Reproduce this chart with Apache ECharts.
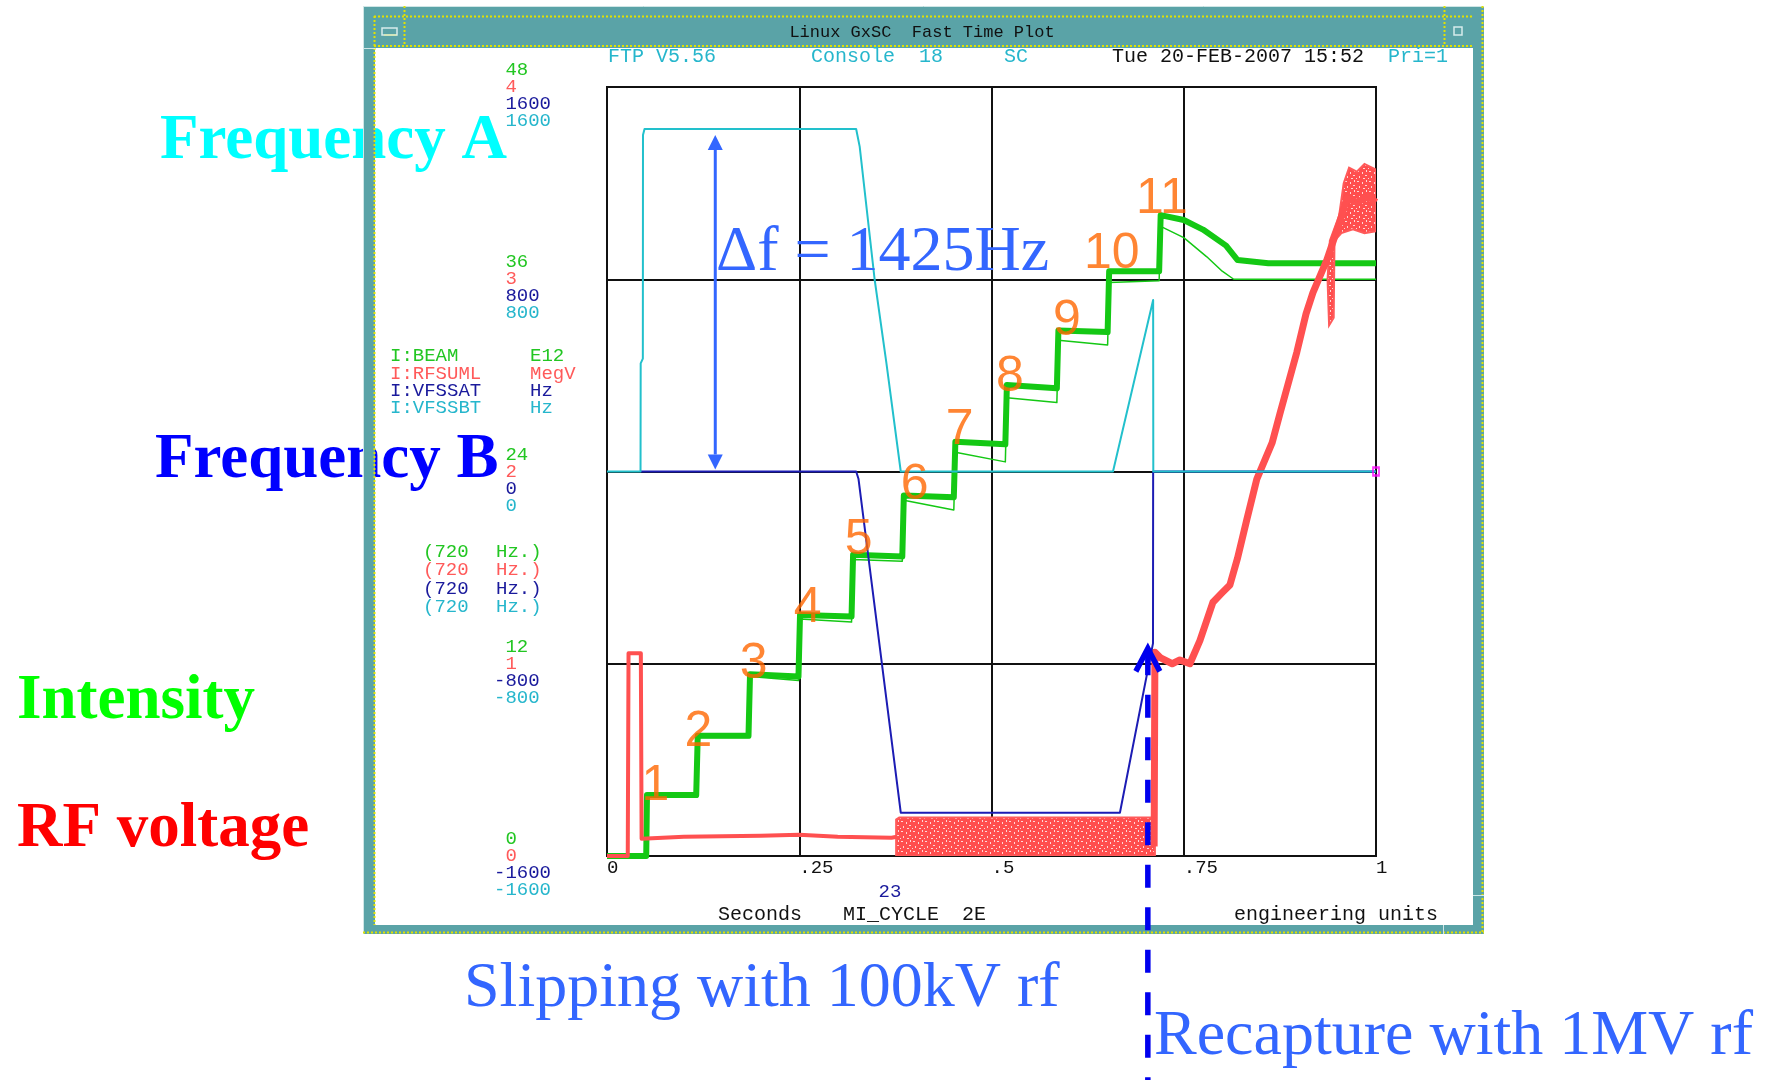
<!DOCTYPE html>
<html>
<head>
<meta charset="utf-8">
<title>Linux GxSC Fast Time Plot</title>
<script src="https://cdn.jsdelivr.net/npm/echarts@6/dist/echarts.min.js"></script>
<style>
  html, body { margin: 0; padding: 0; background: #ffffff; }
  #main { width: 1765px; height: 1080px; }
</style>
</head>
<body>
<div id="main"></div>
<script>
// ---- time axis (seconds into the MI cycle) ----
const timeTicks = [0, 0.25, 0.5, 0.75, 1];
const timeTickLabels = ['0', '.25', '.5', '.75', '1'];

// ---- I:BEAM  intensity, E12 (thick band of overlaid cycles + a lower trace) ----
const beamTrace = [
  [0, 0], [0.051, 0], [0.052, 3.8], [0.116, 3.8], [0.118, 7.5], [0.184, 7.5],
  [0.186, 11.35], [0.249, 11.2], [0.251, 15.05], [0.318, 14.95], [0.320, 18.8],
  [0.384, 18.7], [0.386, 22.5], [0.451, 22.4], [0.453, 25.85], [0.518, 25.7],
  [0.520, 29.4], [0.585, 29.2], [0.587, 32.8], [0.651, 32.7], [0.653, 36.5],
  [0.718, 36.5], [0.720, 40.0], [0.750, 39.7], [0.775, 39.1], [0.805, 38.1],
  [0.820, 37.2], [0.860, 37.0], [1.0, 37.0]
];
const beamLowTrace = [
  [0.052, 3.7], [0.116, 3.7], [0.118, 7.4], [0.184, 7.4], [0.186, 11.2], [0.249, 10.95],
  [0.251, 14.8], [0.318, 14.6], [0.320, 18.5], [0.384, 18.4], [0.386, 22.2], [0.451, 21.6],
  [0.453, 25.2], [0.518, 24.6], [0.520, 28.6], [0.585, 28.3], [0.587, 32.2], [0.651, 31.9],
  [0.653, 35.8], [0.718, 35.9], [0.720, 39.3], [0.750, 38.6], [0.780, 37.4], [0.800, 36.5],
  [0.815, 36.0], [1.0, 36.0]
];

// ---- I:RFSUML  rf voltage, MegV ----
const rfTrace = [
  [0, 0], [0.027, 0], [0.028, 1.055], [0.044, 1.055], [0.045, 0.09], [0.10, 0.10],
  [0.20, 0.105], [0.25, 0.11], [0.30, 0.10], [0.37, 0.095], [0.377, 0.10]
];
const rfSlipBand = [
  [0.376, 0.0], [0.376, 0.19], [0.38, 0.20], [0.50, 0.20], [0.60, 0.20], [0.7125, 0.20], [0.7125, 0.0]
];
const rfRecaptureTrace = [
  [0.7115, 0.05], [0.7125, 1.06], [0.720, 1.03], [0.735, 1.0], [0.745, 1.02], [0.758, 1.0],
  [0.771, 1.12], [0.788, 1.32], [0.800, 1.37], [0.810, 1.41], [0.820, 1.55], [0.832, 1.75],
  [0.845, 1.96], [0.865, 2.15], [0.875, 2.30], [0.897, 2.62], [0.909, 2.82], [0.918, 2.93],
  [0.936, 3.10], [0.953, 3.30], [0.962, 3.42], [0.975, 3.40], [0.990, 3.43], [1.0, 3.40]
];
const rfBurstBand = [
  [0.952, 3.33], [0.958, 3.50], [0.965, 3.58], [0.975, 3.56], [0.985, 3.60], [1.0, 3.57],
  [1.0, 3.25], [0.985, 3.24], [0.970, 3.26], [0.955, 3.24], [0.946, 3.20], [0.945, 2.80],
  [0.939, 2.76], [0.937, 3.00], [0.940, 3.20]
];

// ---- I:VFSSAT  frequency B, Hz ----
const freqBTrace = [
  [0.0436, 0], [0.324, 0], [0.327, -30], [0.382, -1420], [0.667, -1420],
  [0.7100, -715], [0.7102, 0], [1.0, 0]
];

// ---- I:VFSSBT  frequency A, Hz ----
const freqATrace = [
  [0, 0], [0.0436, 0], [0.0438, 450], [0.0466, 470], [0.0468, 1400], [0.0488, 1425],
  [0.324, 1425], [0.3286, 1352], [0.348, 800], [0.3633, 452], [0.382, 0], [0.658, 0],
  [0.7102, 714], [0.7104, 0], [1.0, 0]
];

// ---- injection step numbers, placed in (time, intensity) ----
const stepNames = ['1', '2', '3', '4', '5', '6', '7', '8', '9', '10', '11'];
const stepLabelPos = [
  [0.0631, 4.34], [0.119, 7.75], [0.1906, 11.99], [0.2609, 15.49], [0.3273, 19.74],
  [0.4001, 23.17], [0.4587, 26.55], [0.5238, 29.86], [0.598, 33.35], [0.6565, 37.54], [0.7215, 40.97]
];

// ---- annotation anchors ----
const deltaFTime = 0.1408, deltaFTop = 1400, deltaFBottom = 8;   // frequency A axis
const recaptureTime = 0.7033, recaptureVolt = 1.08;               // rf voltage axis

// ---- colours and fonts ----
const C = {
  beam: '#14c814', rf: '#ff5050', fb: '#1c1cb4', fa: '#22c0cc',
  tGreen: '#22c622', tRed: '#ff5a5a', tNavy: '#1a1a9c', tCyan: '#26b6cc',
  teal: '#5aa3a7', yellow: '#e2e200', orange: '#ff6600', note: '#3366ff'
};
const mono = '"Liberation Mono", "DejaVu Sans Mono", monospace';
const serif = '"Liberation Serif", "Times New Roman", serif';
const sans = '"Liberation Sans", Arial, sans-serif';

// speckled red fill for the dense many-cycle rf traces
function meshPattern() {
  const cv = document.createElement('canvas');
  cv.width = 12; cv.height = 10;
  const cx = cv.getContext('2d');
  cx.fillStyle = '#ff4e4e';
  cx.fillRect(0, 0, 12, 10);
  cx.fillStyle = '#ffd6d6';
  [[1, 1, 2, 1], [6, 2, 1, 2], [9, 5, 2, 1], [3, 6, 1, 2], [7, 8, 2, 1], [0, 8, 1, 1], [10, 0, 1, 2]]
    .forEach(function (r) { cx.fillRect(r[0], r[1], r[2], r[3]); });
  return { image: cv, repeat: 'repeat' };
}
const mesh = meshPattern();

const chart = echarts.init(document.getElementById('main'), null, { renderer: 'canvas', width: 1765, height: 1080 });

function signed(v) { return (v < 0 ? '-' : ' ') + Math.abs(v); }

// four scales share the left edge; each stacks its numbers one text row apart
function scaleAxis(min, max, step, color, before, after, grid) {
  return {
    type: 'value', min: min, max: max, interval: step, position: 'left', offset: 0,
    axisLine: { show: false }, axisTick: { show: false },
    splitLine: { show: grid, lineStyle: { color: '#111', width: 2 } },
    axisLabel: {
      show: true, color: color, fontFamily: mono, fontSize: 19, lineHeight: 17,
      align: 'left', verticalAlign: 'middle', margin: 113,
      formatter: function (v) { return before + signed(v) + after; }
    }
  };
}

function lineSeries(name, data, yIndex, color, width, z) {
  return {
    name: name, type: 'line', data: data, xAxisIndex: 0, yAxisIndex: yIndex,
    showSymbol: false, symbol: 'none', clip: true, z: z, silent: true,
    lineStyle: { color: color, width: width, join: 'round' }
  };
}

function bandSeries(name, outline, yIndex, fill, stroke, z) {
  return {
    name: name, type: 'custom', data: outline, xAxisIndex: 0, yAxisIndex: yIndex,
    encode: { x: 0, y: 1 }, clip: true, z: z, silent: true,
    renderItem: function (params, api) {
      if (params.dataIndex !== 0) return null;
      const pts = outline.map(function (p) { return api.coord(p); });
      return { type: 'polygon', shape: { points: pts },
        style: { fill: fill, stroke: stroke, lineWidth: 2 } };
    }
  };
}

const lastA = freqATrace[freqATrace.length - 1];

chart.setOption({
  animation: false,
  backgroundColor: '#ffffff',
  grid: { left: 607, top: 87, width: 769, height: 769, show: true, borderColor: '#111', borderWidth: 2,
          backgroundColor: 'transparent', containLabel: false, outerBoundsMode: 'none' },
  xAxis: {
    type: 'value', min: 0, max: 1, interval: 0.25,
    axisLine: { show: false }, axisTick: { show: false },
    splitLine: { show: true, lineStyle: { color: '#111', width: 2 } },
    axisLabel: {
      color: '#111', fontFamily: mono, fontSize: 19, lineHeight: 17, align: 'left', margin: 3,
      formatter: function (v) {
        const i = timeTicks.findIndex(function (t) { return Math.abs(t - v) < 1e-6; });
        return i < 0 ? '' : timeTickLabels[i];
      }
    }
  },
  yAxis: [
    scaleAxis(0, 48, 12, C.tGreen, '', '\n\n', true),
    scaleAxis(0, 4, 1, C.tRed, '', '', false),
    scaleAxis(-1600, 1600, 800, C.tNavy, '\n\n', '', false),
    scaleAxis(-1600, 1600, 800, C.tCyan, '\n\n\n\n', '', false)
  ],
  series: [
    lineSeries('I:BEAM low', beamLowTrace, 0, C.beam, 1.5, 3),
    lineSeries('I:BEAM', beamTrace, 0, C.beam, 6, 4),
    bandSeries('I:RFSUML slipping', rfSlipBand, 1, mesh, '#ff5a5a', 5),
    lineSeries('I:RFSUML', rfTrace, 1, C.rf, 4, 5),
    lineSeries('I:RFSUML recapture', rfRecaptureTrace, 1, C.rf, 7, 5),
    bandSeries('I:RFSUML burst', rfBurstBand, 1, mesh, '#ff5a5a', 5),
    lineSeries('I:VFSSAT', freqBTrace, 2, C.fb, 2, 6),
    lineSeries('I:VFSSBT', freqATrace, 3, C.fa, 2, 7),
    {
      name: 'end marks', type: 'scatter', xAxisIndex: 0, yAxisIndex: 3, z: 8, silent: true,
      data: [lastA], symbol: 'rect', symbolSize: [6, 8],
      itemStyle: { color: 'transparent', borderColor: '#ff00ff', borderWidth: 2 }
    },
    {
      name: 'steps', type: 'scatter', xAxisIndex: 0, yAxisIndex: 0, z: 9, silent: true,
      data: stepLabelPos, symbolSize: 1, itemStyle: { color: 'transparent' },
      label: {
        show: true, position: 'inside', color: C.orange, fontFamily: sans, fontSize: 50,
        formatter: function (p) { return stepNames[p.dataIndex]; }
      }
    }
  ]
});

// ---- window frame, captions and arrows ----
function txt(text, x, y, color, font, align, z) {
  return { type: 'text', x: x, y: y, z: z || 40, silent: true,
    style: { text: text, fill: color, font: font, align: align || 'left', verticalAlign: 'middle' } };
}
function rect(x, y, w, h, fill, z) {
  return { type: 'rect', z: z || 20, silent: true, shape: { x: x, y: y, width: w, height: h }, style: { fill: fill } };
}
function seg(x1, y1, x2, y2, color, width, dash, z) {
  return { type: 'line', z: z || 21, silent: true, shape: { x1: x1, y1: y1, x2: x2, y2: y2 },
    style: { stroke: color, lineWidth: width, lineDash: dash || null } };
}

const m19 = '19px ' + mono, m20 = '20px ' + mono, m17 = '17px ' + mono;
const bigFont = 'bold 63px ' + serif;
const noteFont = '64px ' + serif;

const dfTop = chart.convertToPixel({ xAxisIndex: 0, yAxisIndex: 3 }, [deltaFTime, deltaFTop]);
const dfBot = chart.convertToPixel({ xAxisIndex: 0, yAxisIndex: 3 }, [deltaFTime, deltaFBottom]);
const rcTip = chart.convertToPixel({ xAxisIndex: 0, yAxisIndex: 1 }, [recaptureTime, recaptureVolt]);

const g = [];
// large captions (behind the window border)
g.push(txt('Frequency A', 160, 142, '#00ffff', bigFont, 'left', 10));
g.push(txt('Frequency B', 155, 461, '#0000ff', bigFont, 'left', 10));
g.push(txt('Intensity', 17, 702, '#00ff00', bigFont, 'left', 10));
g.push(txt('RF voltage', 17, 830, '#ff0000', bigFont, 'left', 10));

// window border
const dot = [2, 2];
g.push(rect(363, 6, 1121, 42, C.teal));
g.push(rect(363, 6, 12, 928, C.teal));
g.push(rect(1473, 6, 11, 928, C.teal));
g.push(rect(363, 925, 1121, 9, C.teal));
g.push(seg(363, 6.5, 1484, 6.5, '#cfe6e6', 1));
g.push(seg(363.5, 6, 363.5, 934, '#cfe6e6', 1));
g.push(seg(374, 16.5, 1474, 16.5, C.yellow, 2, dot));
g.push(seg(374.5, 16, 374.5, 925, C.yellow, 2, dot));
g.push(seg(374, 46, 1474, 46, C.yellow, 2, dot));
g.push(seg(1482.5, 6, 1482.5, 934, C.yellow, 2, dot));
g.push(seg(363, 932.5, 1484, 932.5, C.yellow, 2, dot));
g.push(seg(404.5, 6, 404.5, 46, C.yellow, 2, dot));
g.push(seg(1444.5, 6, 1444.5, 46, C.yellow, 2, dot));
g.push(seg(1443.5, 925, 1443.5, 934, '#cfe6e6', 1));
g.push(seg(1473, 895.5, 1484, 895.5, '#cfe6e6', 1));
g.push(seg(363, 48.5, 375, 48.5, '#cfe6e6', 1));
g.push({ type: 'rect', z: 22, silent: true, shape: { x: 382, y: 28, width: 15, height: 7 },
  style: { fill: 'none', stroke: '#d6ecec', lineWidth: 1.5 } });
g.push(seg(384, 35, 397, 35, C.yellow, 1.5));
g.push({ type: 'rect', z: 22, silent: true, shape: { x: 1454, y: 27, width: 8, height: 8 },
  style: { fill: 'none', stroke: '#d6ecec', lineWidth: 1.5 } });
g.push(txt('Linux GxSC  Fast Time Plot', 922, 32, '#111', m17, 'center', 30));

// header line
g.push(txt('FTP V5.56', 608, 57, C.tCyan, m20));
g.push(txt('Console  18', 811, 57, C.tCyan, m20));
g.push(txt('SC', 1004, 57, C.tCyan, m20));
g.push(txt('Tue 20-FEB-2007 15:52', 1112, 57, '#111', m20));
g.push(txt('Pri=1', 1388, 57, C.tCyan, m20));

// device list and units
const devRows = [['I:BEAM', 'E12', C.tGreen], ['I:RFSUML', 'MegV', C.tRed], ['I:VFSSAT', 'Hz', C.tNavy], ['I:VFSSBT', 'Hz', C.tCyan]];
const devY = [356, 373.5, 391, 408];
devRows.forEach(function (r, i) {
  g.push(txt(r[0], 390, devY[i], r[2], m19));
  g.push(txt(r[1], 530, devY[i], r[2], m19));
});
const rateY = [552, 570, 588.5, 607];
[C.tGreen, C.tRed, C.tNavy, C.tCyan].forEach(function (c, i) {
  g.push(txt('(720', 423, rateY[i], c, m19));
  g.push(txt('Hz.)', 496, rateY[i], c, m19));
});

// footer
g.push(txt('23', 890, 892, C.tNavy, m19, 'center'));
g.push(txt('Seconds', 718, 915, '#111', m20));
g.push(txt('MI_CYCLE', 843, 915, '#111', m20));
g.push(txt('2E', 962, 915, '#111', m20));
g.push(txt('engineering units', 1234, 915, '#111', m20));

// delta-f double arrow
const ah = 15, aw = 7.5;
g.push(seg(dfTop[0], dfTop[1] + ah, dfBot[0], dfBot[1] - ah, C.note, 3, null, 60));
g.push({ type: 'polygon', z: 60, silent: true,
  shape: { points: [[dfTop[0], dfTop[1]], [dfTop[0] - aw, dfTop[1] + ah], [dfTop[0] + aw, dfTop[1] + ah]] }, style: { fill: C.note } });
g.push({ type: 'polygon', z: 60, silent: true,
  shape: { points: [[dfBot[0], dfBot[1]], [dfBot[0] - aw, dfBot[1] - ah], [dfBot[0] + aw, dfBot[1] - ah]] }, style: { fill: C.note } });
g.push(txt('\u0394f = 1425Hz', 716, 253, C.note, noteFont, 'left', 60));

// recapture marker: dashed line from the page bottom up to the rf jump
g.push(seg(rcTip[0], rcTip[1] + 4, rcTip[0], 1080, '#0000ee', 5.5, [23, 19.5], 60));
g.push({ type: 'polyline', z: 61, silent: true,
  shape: { points: [[rcTip[0] - 12, rcTip[1] + 23], [rcTip[0], rcTip[1]], [rcTip[0] + 12, rcTip[1] + 23]] },
  style: { stroke: '#0000ee', lineWidth: 5.5, fill: 'none', lineJoin: 'miter' } });

// captions under the window
g.push(txt('Slipping with 100kV rf', 464, 989, C.note, noteFont, 'left', 10));
g.push(txt('Recapture with 1MV rf', 1154, 1037, C.note, noteFont, 'left', 10));

chart.setOption({ graphic: g });
</script>
</body>
</html>
